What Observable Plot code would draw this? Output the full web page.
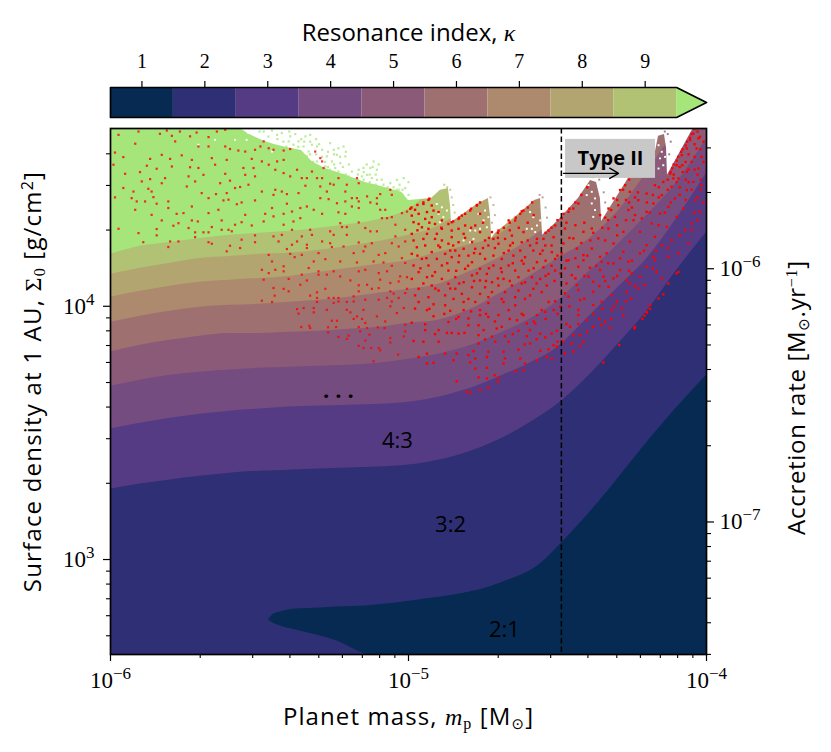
<!DOCTYPE html>
<html><head><meta charset="utf-8">
<script src="https://cdn.jsdelivr.net/npm/d3@7"></script>
<script src="https://cdn.jsdelivr.net/npm/@observablehq/plot@0.6"></script>
<style>html,body{margin:0;padding:0;background:#fff;overflow:hidden}svg{display:block}</style>
</head><body><div id="app"></div>
<script>
// ---- axes ----
const massDomain = [1e-6, 1e-4];
const logSigmaDomain = [2.625, 4.702];
const kappaValues = [1,2,3,4,5,6,7,8,9];
const kappaTail = 9.975;
const bandColors = ["#062a52","#2f2f75","#553b84","#744c80","#8a5a78","#9e7070","#ad8a6e","#b2a570","#b1c274","#a6e57a"];
const massMajor = [1e-6,1e-5,1e-4];
const massMinor = [2e-6,3e-6,4e-6,5e-6,6e-6,7e-6,8e-6,9e-6,2e-5,3e-5,4e-5,5e-5,6e-5,7e-5,8e-5,9e-5];
const sigmaMajor = [1e3,1e4];
const sigmaMinor = [500,600,700,800,900,2e3,3e3,4e3,5e3,6e3,7e3,8e3,9e3,2e4,3e4,4e4];
const rateMajor = [1e-7,1e-6];
const rateMinor = [3e-8,4e-8,5e-8,6e-8,7e-8,8e-8,9e-8,2e-7,3e-7,4e-7,5e-7,6e-7,7e-7,8e-7,9e-7,2e-6,3e-6];
const sigmaPerRate = 14070/1e-6;
const typeIIMass = -4.487;

// ---- resonance boundaries: log10 Sigma at each log10 mass ----
const logMassGrid = [-6,-5.9,-5.8,-5.7,-5.6,-5.5,-5.4,-5.3,-5.2,-5.1,-5,-4.9,-4.8,-4.7,-4.6,-4.5,-4.4,-4.3,-4.2,-4.1,-4];
const edge2to3 = [3.278,3.298,3.314,3.329,3.341,3.349,3.353,3.357,3.361,3.365,3.373,3.392,3.424,3.471,3.535,3.613,3.720,3.846,3.980,4.142,4.292];
const edge3to4 = [3.515,3.538,3.558,3.574,3.586,3.594,3.602,3.606,3.609,3.613,3.621,3.641,3.673,3.720,3.771,3.838,3.953,4.071,4.189,4.347,4.525];
const edge4to5 = [3.684,3.708,3.728,3.740,3.748,3.755,3.759,3.763,3.767,3.775,3.791,3.811,3.842,3.890,3.945,4.020,4.130,4.241,4.359,4.489,4.663];
const edge5to6 = [3.819,3.846,3.866,3.882,3.893,3.893,3.897,3.901,3.909,3.917,3.933,3.945,3.984,4.047,4.114,4.189,4.260,4.371,4.529,4.702,4.852];
const edge6to7 = [3.937,3.961,3.980,3.996,4.004,4.008,4.016,4.024,4.036,4.051,4.067,4.087,4.134,4.189,4.260,4.355,4.505,4.675,4.832,4.970,5.088];
const edge7to8 = [4.036,4.059,4.079,4.095,4.103,4.110,4.118,4.134,4.150,4.166,4.181,4.213,4.241,4.280,4.398,4.556,4.714,4.852,4.970,5.088,5.207];
const edge8to9 = [4.126,4.150,4.170,4.189,4.197,4.205,4.209,4.221,4.237,4.256,4.280,4.316,4.398,4.517,4.615,4.734,4.852,4.970,5.088,5.207,5.325];
const edge9to10 = [4.205,4.237,4.252,4.268,4.280,4.288,4.296,4.308,4.323,4.343,4.383,4.485,4.615,4.734,4.813,4.900,5.000,5.100,5.200,5.300,5.400];
// the 2:1 region
const tongueMass = [-5.470,-5.456,-5.430,-5.379,-5.295,-5.242,-5.144,-4.966,-4.691,-4.554,-4.483,-4.356,-4.221,-4.101,-4];
const tongueTop = [2.761,2.781,2.793,2.805,2.809,2.813,2.817,2.840,2.907,2.986,3.069,3.235,3.432,3.598,3.728];
const tongueBottom = [2.761,2.750,2.738,2.722,2.698,2.679,2.627,2.6,2.6,2.6,2.6,2.6,2.6,2.6,2.6];
// upper limit of the simulated domain (white above)
const limitMass = [-5.564,-5.537,-5.490,-5.453,-5.413,-5.359,-5.322,-5.279,-5.211,-5.144,-5.091,-5.023,-5.000,-4.923,-4.893,-4.866,-4.859,-4.856,-4.775,-4.745,-4.732,-4.725,-4.721,-4.708,-4.614,-4.577,-4.557,-4.554,-4.550,-4.497,-4.430,-4.389,-4.369,-4.356,-4.352,-4.262,-4.171,-4.161,-4.141,-4.134,-4.131,-4.050,-4.044];
const limitSigma = [4.702,4.680,4.655,4.640,4.628,4.615,4.570,4.544,4.517,4.489,4.473,4.450,4.418,4.426,4.458,4.465,4.398,4.331,4.398,4.418,4.426,4.359,4.268,4.288,4.379,4.418,4.426,4.359,4.280,4.339,4.426,4.497,4.489,4.426,4.335,4.505,4.611,4.671,4.678,4.623,4.517,4.690,4.702];

// ---- unstable runs, [log10 mass, log10 Sigma] ----
const redUpperLeft = [[-5.973,4.677],[-5.906,4.690],[-5.834,4.681],[-5.811,4.694],[-5.794,4.673],[-5.767,4.690],[-5.733,4.671],[-5.711,4.686],[-5.671,4.668],[-5.643,4.690],[-5.615,4.697],[-5.917,4.642],[-5.783,4.651],[-5.705,4.631],[-5.671,4.631],[-5.615,4.631],[-5.599,4.621],[-5.571,4.615],[-5.548,4.611],[-5.515,4.618],[-5.828,4.598],[-5.761,4.596],[-5.985,4.607],[-5.957,4.589],[-5.867,4.582],[-5.800,4.582],[-5.727,4.578],[-5.660,4.585],[-5.610,4.578],[-5.526,4.582],[-5.990,4.559],[-5.878,4.555],[-5.794,4.552],[-5.733,4.549],[-5.705,4.546],[-5.649,4.559],[-5.554,4.546],[-5.520,4.546],[-5.845,4.543],[-5.688,4.519],[-5.901,4.530],[-5.951,4.523],[-5.867,4.502],[-5.817,4.506],[-5.738,4.513],[-5.615,4.523],[-5.548,4.519],[-5.515,4.513],[-5.828,4.486],[-5.895,4.493],[-5.716,4.493],[-5.632,4.486],[-5.599,4.496],[-5.537,4.480],[-5.565,4.471],[-5.744,4.473],[-5.957,4.467],[-5.873,4.464],[-5.923,4.453],[-5.694,4.447],[-5.646,4.443],[-5.610,4.447],[-5.582,4.467],[-5.862,4.453],[-5.985,4.430],[-5.929,4.427],[-5.912,4.414],[-5.884,4.414],[-5.806,4.414],[-5.856,4.431],[-5.671,4.427],[-5.604,4.421],[-5.621,4.418],[-5.560,4.410],[-5.515,4.418],[-5.845,4.405],[-5.917,4.381],[-5.806,4.388],[-5.727,4.394],[-5.638,4.381],[-5.576,4.403],[-5.548,4.361],[-5.671,4.368],[-5.755,4.368],[-5.778,4.365],[-5.862,4.361],[-5.828,4.339],[-5.727,4.339],[-5.707,4.335],[-5.627,4.339],[-5.560,4.332],[-5.772,4.328],[-5.789,4.318],[-5.973,4.306],[-5.845,4.305],[-5.738,4.309],[-5.660,4.313],[-5.582,4.322],[-5.526,4.319],[-5.688,4.292],[-5.671,4.292],[-5.627,4.302],[-5.604,4.302],[-5.593,4.296],[-5.906,4.289],[-5.716,4.292],[-5.845,4.280],[-5.716,4.273],[-5.515,4.280],[-5.890,4.253],[-5.800,4.256],[-5.772,4.256],[-5.671,4.253],[-5.560,4.263],[-5.515,4.253],[-5.806,4.234],[-5.660,4.247],[-5.599,4.239],[-5.565,4.230],[-5.610,4.217]];
const redUpperMiddle = [[-5.497,4.631],[-5.469,4.624],[-5.486,4.651],[-5.453,4.618],[-5.419,4.615],[-5.397,4.621],[-5.492,4.572],[-5.469,4.559],[-5.441,4.572],[-5.419,4.578],[-5.447,4.539],[-5.419,4.526],[-5.397,4.513],[-5.374,4.539],[-5.358,4.506],[-5.324,4.532],[-5.290,4.572],[-5.313,4.611],[-5.296,4.585],[-5.285,4.546],[-5.341,4.506],[-5.307,4.506],[-5.290,4.506],[-5.235,4.506],[-5.173,4.506],[-5.207,4.480],[-5.251,4.480],[-5.212,4.453],[-5.167,4.486],[-5.346,4.476],[-5.296,4.473],[-5.274,4.453],[-5.263,4.484],[-5.492,4.453],[-5.447,4.460],[-5.425,4.453],[-5.408,4.443],[-5.453,4.440],[-5.369,4.447],[-5.296,4.427],[-5.268,4.423],[-5.240,4.407],[-5.212,4.414],[-5.190,4.427],[-5.173,4.427],[-5.139,4.434],[-5.167,4.414],[-5.128,4.410],[-5.106,4.427],[-5.095,4.443],[-5.061,4.460],[-5.056,4.440],[-5.106,4.405],[-5.095,4.381],[-5.078,4.381],[-5.167,4.388],[-5.190,4.394],[-5.458,4.388],[-5.408,4.405],[-5.341,4.394],[-5.363,4.388],[-5.318,4.381],[-5.391,4.374],[-5.419,4.365],[-5.481,4.365],[-5.453,4.355],[-5.363,4.348],[-5.386,4.335],[-5.290,4.365],[-5.235,4.371],[-5.212,4.365],[-5.022,4.368],[-5.005,4.374],[-5.056,4.352],[-5.089,4.348],[-5.072,4.348],[-5.167,4.331],[-5.229,4.328],[-5.419,4.322],[-5.486,4.335],[-5.223,4.313],[-5.207,4.313],[-5.145,4.309],[-5.106,4.296],[-5.128,4.296],[-5.044,4.322],[-5.330,4.302],[-5.263,4.296],[-5.391,4.302],[-5.425,4.282],[-5.453,4.276],[-5.358,4.276],[-5.324,4.282],[-5.251,4.282],[-5.207,4.282],[-5.167,4.252],[-5.290,4.256],[-5.374,4.256],[-5.436,4.256],[-5.391,4.243],[-5.341,4.243],[-5.408,4.226],[-5.341,4.230],[-5.257,4.234],[-5.218,4.236],[-5.145,4.236],[-5.123,4.249],[-5.056,4.249],[-5.033,4.236],[-5.011,4.256],[-5.044,4.276],[-5.011,4.302],[-5.469,4.203],[-5.397,4.207],[-5.358,4.203],[-5.302,4.210],[-5.184,4.210],[-5.151,4.217],[-5.100,4.203],[-5.078,4.210],[-5.263,4.249]];
const redLowerMiddle = [[-5.458,4.177],[-5.382,4.194],[-5.318,4.177],[-5.279,4.186],[-5.229,4.177],[-5.173,4.173],[-5.117,4.177],[-5.084,4.173],[-5.011,4.171],[-5.056,4.160],[-5.022,4.190],[-5.419,4.158],[-5.447,4.144],[-5.335,4.151],[-5.492,4.144],[-5.469,4.131],[-5.419,4.138],[-5.358,4.125],[-5.302,4.138],[-5.302,4.125],[-5.274,4.125],[-5.229,4.118],[-5.251,4.138],[-5.167,4.138],[-5.145,4.144],[-5.100,4.131],[-5.072,4.138],[-5.028,4.118],[-5.005,4.115],[-5.486,4.105],[-5.402,4.108],[-5.341,4.102],[-5.195,4.102],[-5.095,4.105],[-5.061,4.092],[-5.033,4.098],[-5.363,4.085],[-5.139,4.085],[-5.167,4.083],[-5.123,4.069],[-5.100,4.072],[-5.061,4.059],[-5.005,4.069],[-5.419,4.069],[-5.453,4.072],[-5.307,4.055],[-5.279,4.069],[-5.167,4.059],[-5.050,4.050],[-5.011,4.052],[-5.330,4.042],[-5.449,4.042],[-5.402,4.059],[-5.307,4.033],[-5.268,4.033],[-5.251,4.033],[-5.235,4.033],[-5.184,4.039],[-5.100,4.026],[-5.072,4.033],[-5.033,4.033],[-5.492,4.022],[-5.458,4.017],[-5.307,4.017],[-5.251,4.013],[-5.235,4.019],[-5.207,4.017],[-5.184,4.019],[-5.145,4.026],[-5.056,4.019],[-5.016,3.993],[-5.061,4.000],[-5.352,3.993],[-5.374,3.989],[-5.318,3.993],[-5.274,3.986],[-5.207,3.986],[-5.151,3.986],[-5.369,3.971],[-5.318,3.976],[-5.195,3.976],[-5.039,3.973],[-5.173,3.960],[-5.106,3.960],[-5.184,3.950],[-5.156,3.950],[-5.257,3.943],[-5.240,3.943],[-5.145,3.934],[-5.078,3.940],[-5.360,3.918],[-5.333,3.923],[-5.330,3.914],[-5.270,3.917],[-5.243,3.918],[-5.167,3.918],[-5.139,3.914],[-5.103,3.917],[-5.080,3.914],[-5.011,3.927],[-5.270,3.897],[-5.162,3.901],[-5.011,3.901],[-5.235,3.879],[-5.201,3.884],[-5.131,3.888],[-5.061,3.875],[-5.207,3.871],[-5.145,3.865],[-5.061,3.857],[-5.016,3.881],[-5.167,3.844],[-5.125,3.835],[-5.100,3.835],[-5.095,3.826],[-5.151,3.835],[-5.035,3.809],[-5.117,3.783]];
const redUpperRight = [[-4.994,4.385],[-4.978,4.381],[-4.950,4.404],[-4.933,4.420],[-4.922,4.398],[-4.989,4.358],[-4.966,4.365],[-4.938,4.372],[-4.916,4.378],[-4.899,4.372],[-4.944,4.345],[-4.922,4.352],[-4.983,4.332],[-4.966,4.325],[-4.911,4.325],[-4.888,4.339],[-4.955,4.312],[-4.933,4.306],[-4.888,4.306],[-4.866,4.325],[-4.855,4.332],[-4.832,4.345],[-4.821,4.358],[-4.793,4.378],[-4.771,4.398],[-4.760,4.365],[-4.989,4.286],[-4.938,4.286],[-4.905,4.286],[-4.855,4.299],[-4.832,4.306],[-4.810,4.319],[-4.776,4.319],[-4.983,4.260],[-4.950,4.266],[-4.911,4.266],[-4.888,4.260],[-4.855,4.273],[-4.815,4.286],[-4.760,4.293],[-4.720,4.293],[-4.698,4.299],[-4.664,4.339],[-4.642,4.339],[-4.625,4.365],[-4.614,4.378],[-4.972,4.233],[-4.944,4.240],[-4.894,4.233],[-4.866,4.247],[-4.832,4.253],[-4.787,4.253],[-4.743,4.260],[-4.715,4.266],[-4.676,4.266],[-4.653,4.279],[-4.614,4.293],[-4.569,4.266],[-4.530,4.299],[-4.508,4.319],[-4.989,4.207],[-4.922,4.214],[-4.877,4.207],[-4.843,4.220],[-4.815,4.227],[-4.776,4.227],[-4.732,4.240],[-4.698,4.247],[-4.659,4.240],[-4.620,4.253],[-4.592,4.240],[-4.547,4.266],[-4.513,4.273],[-4.955,4.187],[-4.905,4.187],[-4.855,4.194],[-4.799,4.200],[-4.760,4.207],[-4.715,4.200],[-4.664,4.220],[-4.625,4.220],[-4.581,4.220],[-4.541,4.240],[-4.983,4.161],[-4.933,4.161],[-4.888,4.161],[-4.832,4.174],[-4.787,4.174],[-4.743,4.187],[-4.687,4.187],[-4.648,4.200],[-4.609,4.194],[-4.558,4.207],[-4.519,4.214],[-4.966,4.135],[-4.911,4.135],[-4.866,4.141],[-4.810,4.148],[-4.760,4.148],[-4.715,4.161],[-4.664,4.161],[-4.614,4.168],[-4.569,4.174],[-4.508,4.187],[-4.989,4.108],[-4.938,4.115],[-4.888,4.108],[-4.843,4.115],[-4.787,4.122],[-4.737,4.128],[-4.687,4.135],[-4.642,4.141],[-4.597,4.141],[-4.547,4.154],[-4.922,4.082],[-4.866,4.089],[-4.815,4.095],[-4.760,4.102],[-4.720,4.095],[-4.681,4.108],[-4.631,4.115],[-4.586,4.115],[-4.530,4.128],[-4.966,4.069],[-4.899,4.062],[-4.843,4.069],[-4.787,4.075],[-4.743,4.075],[-4.698,4.082],[-4.653,4.082],[-4.609,4.095],[-4.558,4.108],[-4.508,4.141],[-4.978,4.043],[-4.933,4.036],[-4.877,4.043],[-4.821,4.049],[-4.760,4.049],[-4.720,4.056],[-4.676,4.056],[-4.631,4.062],[-4.581,4.069],[-4.536,4.082],[-4.849,4.029],[-4.799,4.029],[-4.732,4.036],[-4.687,4.029],[-4.642,4.036],[-4.592,4.043],[-4.553,4.056],[-4.609,4.029]];
const redLowerRight = [[-4.966,4.017],[-4.916,4.008],[-4.877,4.004],[-4.815,4.017],[-4.776,4.017],[-4.732,4.013],[-4.681,4.017],[-4.642,4.004],[-4.530,4.017],[-4.508,4.020],[-4.978,3.991],[-4.938,3.985],[-4.860,3.982],[-4.815,3.985],[-4.760,3.985],[-4.698,3.965],[-4.664,3.985],[-4.614,3.965],[-4.553,3.985],[-4.513,3.985],[-4.916,3.961],[-4.832,3.958],[-4.799,3.952],[-4.760,3.965],[-4.732,3.958],[-4.636,3.945],[-4.569,3.965],[-4.541,3.978],[-4.989,3.935],[-4.944,3.929],[-4.866,3.938],[-4.799,3.925],[-4.765,3.925],[-4.687,3.919],[-4.603,3.932],[-4.575,3.932],[-4.944,3.906],[-4.899,3.906],[-4.832,3.892],[-4.855,3.895],[-4.748,3.906],[-4.704,3.912],[-4.631,3.903],[-4.592,3.906],[-4.519,3.892],[-4.558,3.892],[-4.983,3.863],[-4.911,3.890],[-4.871,3.895],[-4.812,3.895],[-4.765,3.886],[-4.676,3.882],[-4.603,3.882],[-4.541,3.877],[-4.502,3.903],[-4.950,3.860],[-4.899,3.860],[-4.765,3.853],[-4.743,3.869],[-4.709,3.860],[-4.664,3.860],[-4.592,3.853],[-4.513,3.846],[-4.938,3.813],[-4.877,3.813],[-4.838,3.813],[-4.782,3.823],[-4.732,3.820],[-4.681,3.820],[-4.631,3.829],[-4.558,3.824],[-4.502,3.840],[-4.966,3.800],[-4.916,3.777],[-4.849,3.787],[-4.799,3.807],[-4.737,3.800],[-4.676,3.794],[-4.625,3.794],[-4.569,3.787],[-4.536,3.800],[-4.519,3.794],[-4.938,3.774],[-4.776,3.794],[-4.681,3.774],[-4.609,3.774],[-4.793,3.778],[-4.776,3.754],[-4.737,3.757],[-4.640,3.744],[-4.614,3.748],[-4.765,3.719],[-4.737,3.715],[-4.711,3.728],[-4.698,3.719],[-4.838,3.704],[-4.732,3.679],[-4.700,3.702],[-4.804,3.662],[-4.760,3.669],[-4.793,3.660]];
const redFarUpper = [[-4.044,4.682],[-4.055,4.656],[-4.022,4.669],[-4.033,4.623],[-4.066,4.623],[-4.016,4.590],[-4.083,4.597],[-4.050,4.570],[-4.100,4.557],[-4.027,4.544],[-4.066,4.531],[-4.122,4.524],[-4.094,4.505],[-4.044,4.491],[-4.016,4.478],[-4.145,4.491],[-4.117,4.472],[-4.066,4.459],[-4.173,4.478],[-4.150,4.439],[-4.106,4.426],[-4.038,4.419],[-4.201,4.445],[-4.178,4.406],[-4.128,4.393],[-4.078,4.386],[-4.022,4.373],[-4.273,4.478],[-4.290,4.459],[-4.257,4.452],[-4.312,4.426],[-4.229,4.419],[-4.296,4.399],[-4.329,4.386],[-4.262,4.380],[-4.201,4.373],[-4.156,4.366],[-4.100,4.353],[-4.050,4.327],[-4.357,4.360],[-4.307,4.353],[-4.245,4.340],[-4.184,4.327],[-4.133,4.314],[-4.072,4.301],[-4.385,4.307],[-4.329,4.307],[-4.279,4.294],[-4.223,4.294],[-4.173,4.274],[-4.117,4.261],[-4.061,4.248],[-4.430,4.406],[-4.447,4.386],[-4.463,4.373],[-4.486,4.347],[-4.475,4.307],[-4.447,4.268],[-4.413,4.294],[-4.363,4.268],[-4.312,4.248],[-4.257,4.255],[-4.201,4.241],[-4.150,4.241],[-4.094,4.209],[-4.480,4.248],[-4.435,4.228],[-4.385,4.228],[-4.335,4.209],[-4.279,4.215],[-4.223,4.209],[-4.178,4.195],[-4.128,4.195],[-4.486,4.209],[-4.413,4.202],[-4.357,4.195],[-4.027,4.663],[-4.081,4.557],[-4.111,4.505],[-4.161,4.320],[-4.217,4.347],[-4.03,4.69],[-4.01,4.65],[-4.04,4.64],[-4.06,4.60],[-4.02,4.62],[-4.01,4.57],[-4.04,4.59],[-4.07,4.57],[-4.03,4.52],[-4.06,4.54],[-4.09,4.55],[-4.00,4.53],[-4.08,4.53],[-4.11,4.52],[-4.13,4.50],[-4.16,4.47],[-4.09,4.47],[-4.06,4.49],[-4.02,4.46],[-4.18,4.44],[-4.12,4.41],[-4.07,4.42],[-4.03,4.43],[-4.26,4.41],[-4.24,4.43]];
const redFarLower = [[-4.463,4.182],[-4.413,4.182],[-4.352,4.176],[-4.312,4.169],[-4.262,4.176],[-4.201,4.156],[-4.173,4.182],[-4.475,4.150],[-4.430,4.156],[-4.391,4.152],[-4.357,4.143],[-4.290,4.143],[-4.251,4.130],[-4.167,4.136],[-4.094,4.136],[-4.452,4.123],[-4.396,4.117],[-4.346,4.117],[-4.312,4.110],[-4.268,4.103],[-4.223,4.117],[-4.435,4.084],[-4.380,4.097],[-4.329,4.077],[-4.257,4.090],[-4.208,4.084],[-4.475,4.051],[-4.430,4.064],[-4.380,4.057],[-4.318,4.044],[-4.268,4.057],[-4.229,4.071],[-4.463,4.038],[-4.424,4.025],[-4.352,4.018],[-4.301,4.018],[-4.253,4.031],[-4.145,4.047],[-4.161,4.031],[-4.189,4.005],[-4.491,3.998],[-4.430,3.985],[-4.380,4.005],[-4.318,3.985],[-4.284,3.992],[-4.201,3.978],[-4.208,3.963],[-4.430,3.965],[-4.402,3.946],[-4.340,3.939],[-4.279,3.963],[-4.380,3.919],[-4.352,3.926],[-4.324,3.915],[-4.240,3.919],[-4.242,3.913],[-4.458,3.919],[-4.424,3.886],[-4.447,3.886],[-4.480,3.860],[-4.413,3.860],[-4.452,3.853],[-4.424,3.844],[-4.475,3.814],[-4.447,3.821],[-4.293,3.847],[-4.346,3.778],[-4.128,4.090]];
const redAlongLimit = [[-4.99,4.39],[-4.97,4.40],[-4.95,4.41],[-4.93,4.425],[-4.85,4.335],[-4.83,4.35],[-4.81,4.365],[-4.79,4.385],[-4.77,4.40],[-4.76,4.41],[-4.70,4.29],[-4.68,4.31],[-4.66,4.33],[-4.64,4.35],[-4.62,4.375],[-4.60,4.39],[-4.585,4.41],[-4.54,4.29],[-4.52,4.31],[-4.50,4.34],[-4.48,4.365],[-4.46,4.385],[-4.44,4.41],[-4.42,4.44],[-4.40,4.47],[-4.34,4.35],[-4.32,4.38],[-4.30,4.42],[-4.28,4.46],[-4.26,4.50],[-4.24,4.525],[-4.21,4.55],[-4.12,4.53],[-4.11,4.56],[-4.095,4.59],[-4.08,4.62],[-4.065,4.65],[-4.05,4.68],[-4.04,4.70],[-4.115,4.545],[-4.10,4.575],[-4.085,4.61],[-4.07,4.635],[-4.055,4.665],[-4.215,3.95],[-4.20,3.975],[-4.19,3.99],[-4.10,4.13]];
const redExtra = [[-4.97,4.30],[-4.93,4.33],[-4.89,4.31],[-4.85,4.24],[-4.81,4.27],[-4.79,4.31],[-4.75,4.33],[-4.73,4.27],[-4.70,4.27],[-4.66,4.30],[-4.63,4.31],[-4.60,4.33],[-4.58,4.36],[-4.97,4.20],[-4.94,4.19],[-4.90,4.24],[-4.86,4.22],[-4.83,4.20],[-4.78,4.21],[-4.75,4.23],[-4.71,4.23],[-4.68,4.21],[-4.65,4.25],[-4.60,4.26],[-4.57,4.25],[-4.55,4.22],[-4.52,4.24],[-4.50,4.20],[-4.96,4.15],[-4.92,4.12],[-4.87,4.17],[-4.84,4.14],[-4.80,4.16],[-4.77,4.13],[-4.73,4.15],[-4.69,4.15],[-4.65,4.17],[-4.62,4.18],[-4.58,4.15],[-4.54,4.18],[-4.52,4.16],[-4.49,4.13],[-4.95,4.09],[-4.91,4.07],[-4.86,4.07],[-4.83,4.09],[-4.78,4.10],[-4.74,4.10],[-4.70,4.11],[-4.66,4.10],[-4.62,4.09],[-4.57,4.09],[-4.54,4.12],[-4.51,4.10],[-4.93,3.99],[-4.88,3.97],[-4.84,3.95],[-4.79,3.98],[-4.74,3.97],[-4.71,3.94],[-4.66,3.95],[-4.62,3.97],[-4.58,3.94],[-4.54,3.95],[-4.50,3.97],[-4.72,3.88],[-4.65,3.89],[-4.61,3.85],[-4.57,3.87],[-4.53,3.83],[-4.50,3.86],[-4.47,4.33],[-4.44,4.32],[-4.41,4.33],[-4.38,4.29],[-4.35,4.31],[-4.33,4.34],[-4.30,4.32],[-4.27,4.34],[-4.25,4.39],[-4.27,4.42],[-4.23,4.45],[-4.20,4.41],[-4.16,4.43],[-4.13,4.46],[-4.09,4.44],[-4.05,4.46],[-4.02,4.50],[-4.04,4.54],[-4.07,4.50],[-4.10,4.49],[-4.14,4.37],[-4.19,4.37],[-4.24,4.36],[-4.30,4.28],[-4.34,4.26],[-4.39,4.26],[-4.42,4.25],[-4.46,4.27],[-4.47,4.18],[-4.44,4.19],[-4.40,4.20],[-4.37,4.16],[-4.33,4.17],[-4.29,4.19],[-4.25,4.18],[-4.21,4.22],[-4.17,4.22],[-4.13,4.23],[-4.09,4.28],[-4.05,4.30],[-4.03,4.34],[-4.01,4.41],[-4.04,4.37],[-4.47,4.09],[-4.44,4.11],[-4.41,4.12],[-4.36,4.08],[-4.34,4.10],[-4.30,4.12],[-4.26,4.14],[-4.24,4.08],[-4.18,4.15],[-4.15,4.11],[-4.46,4.00],[-4.41,4.03],[-4.38,3.97],[-4.35,3.99],[-4.31,4.00],[-4.27,4.02],[-4.47,3.93],[-4.43,3.93],[-4.40,3.90],[-4.36,3.95],[-4.32,3.95]];
// pale speckled fringe above the domain limit, and gaps inside the teeth
const fringeDots = [[-5.486,4.690],[-5.458,4.694],[-5.441,4.677],[-5.425,4.684],[-5.397,4.671],[-5.369,4.651],[-5.346,4.671],[-5.330,4.677],[-5.352,4.631],[-5.324,4.638],[-5.335,4.611],[-5.307,4.631],[-5.290,4.618],[-5.263,4.644],[-5.251,4.618],[-5.235,4.624],[-5.274,4.592],[-5.257,4.572],[-5.240,4.598],[-5.218,4.631],[-5.212,4.592],[-5.229,4.565],[-5.246,4.546],[-5.190,4.532],[-5.167,4.539],[-5.151,4.546],[-5.128,4.546],[-5.106,4.539],[-5.117,4.572],[-5.139,4.519],[-5.156,4.513],[-5.123,4.506],[-5.201,4.513],[-5.184,4.499],[-5.106,4.499],[-5.084,4.480],[-5.061,4.486],[-5.039,4.499],[-5.016,4.506],[-5.033,4.460],[-5.011,4.467],[-5.050,4.447],[-5.022,4.427],[-5.005,4.414],[-5.044,4.407],[-5.072,4.453],[-5.033,4.394],[-5.402,4.651],[-5.386,4.638],[-5.363,4.611],[-5.341,4.592],[-5.307,4.572],[-5.279,4.552],[-5.263,4.539],[-5.235,4.532],[-5.218,4.519],[-5.50,4.69],[-5.47,4.67],[-5.44,4.66],[-5.42,4.65],[-5.40,4.69],[-5.38,4.68],[-5.36,4.66],[-5.41,4.63],[-5.39,4.62],[-5.37,4.63],[-5.35,4.65],[-5.33,4.65],[-5.31,4.66],[-5.30,4.64],[-5.33,4.60],[-5.31,4.60],[-5.29,4.59],[-5.27,4.61],[-5.25,4.60],[-5.28,4.57],[-5.30,4.55],[-5.27,4.55],[-5.25,4.56],[-5.23,4.59],[-5.21,4.61],[-5.25,4.53],[-5.22,4.55],[-5.20,4.56],[-5.24,4.51],[-5.21,4.52],[-5.19,4.50],[-5.17,4.52],[-5.15,4.53],[-5.13,4.52],[-5.11,4.52],[-5.17,4.50],[-5.15,4.50],[-5.14,4.56],[-5.12,4.55],[-5.10,4.56],[-5.13,4.49],[-5.11,4.48],[-5.09,4.50],[-5.07,4.47],[-5.05,4.47],[-5.03,4.48],[-5.02,4.46],[-5.00,4.49],[-5.06,4.44],[-5.04,4.43],[-5.02,4.44],[-5.00,4.44],[-5.04,4.46],[-5.08,4.46],[-5.47,4.64],[-5.45,4.63],[-5.43,4.62],[-5.41,4.60],[-5.38,4.60],[-5.36,4.59],[-5.34,4.57],[-5.32,4.57],[-5.30,4.53],[-5.28,4.52]];
const gapDots = [[-4.905,4.404],[-4.888,4.391],[-4.899,4.365],[-4.883,4.352],[-4.894,4.332],[-4.871,4.378],[-4.765,4.365],[-4.748,4.339],[-4.737,4.312],[-4.760,4.306],[-4.776,4.299],[-4.793,4.299],[-4.743,4.378],[-4.732,4.352],[-4.782,4.266],[-4.815,4.260],[-4.793,4.253],[-4.592,4.372],[-4.581,4.352],[-4.569,4.319],[-4.586,4.306],[-4.575,4.293],[-4.558,4.339],[-4.603,4.306],[-4.396,4.478],[-4.385,4.452],[-4.374,4.426],[-4.402,4.439],[-4.385,4.406],[-4.374,4.380],[-4.380,4.353],[-4.161,4.636],[-4.150,4.610],[-4.156,4.584],[-4.145,4.557],[-4.161,4.544],[-4.139,4.590],[-5.537,4.684],[-5.520,4.690],[-5.509,4.677],[-5.543,4.657],[-5.582,4.657],[-5.649,4.657],[-5.705,4.638],[-5.458,4.611],[-5.408,4.677]];
// coloured specks trailing the teeth: [log10 mass, log10 Sigma, resonance index]
const toothDots = [[-4.86,4.46,9],[-4.855,4.43,9],[-4.85,4.40,9],[-4.845,4.37,9],[-4.87,4.47,9],[-4.88,4.48,9],[-4.725,4.43,8],[-4.715,4.40,8],[-4.71,4.36,8],[-4.72,4.33,8],[-4.55,4.43,7],[-4.54,4.39,7],[-4.535,4.35,7],[-4.56,4.44,7],[-4.36,4.50,6],[-4.345,4.45,6],[-4.34,4.41,6],[-4.38,4.51,6],[-4.13,4.68,5],[-4.12,4.65,5],[-4.125,4.60,5],[-4.14,4.69,5]];
// annotations: [log10 mass, log10 Sigma, text]
const resonanceLabels = [[-5.225,3.665,"..."],[-5.037,3.467,"4:3"],[-4.859,3.136,"3:2"],[-4.678,2.722,"2:1"]];
const typeIIBoxMass = [-4.473,-4.171];
const typeIIBoxSigma = [4.505,4.659];
const typeIILabel = [-4.322,4.584];
const typeIIArrow = {mass:[-4.480,-4.295], sigma:4.525};

const P = v => 10 ** v;
const sansFont = "'Open Sans', Lato, sans-serif";
const serifFont = "'Liberation Serif', serif";
const sigmaRange = logSigmaDomain.map(P);

function bandArea(values, color) {
  return Plot.areaY(logMassGrid, {
    x: m => P(m), y1: () => sigmaRange[0],
    y2: (m, i) => P(values[i]), fill: color, curve: "monotone-x", clip: true
  });
}
function dots(list, opts) {
  return Plot.dot(list, {x: d => P(d[0]), y: d => P(d[1]), symbol: "square", clip: true, ...opts});
}
const pow = v => "10|" + Math.round(Math.log10(v));

// ---- colour bar ----
const bar = Plot.plot({
  width: 831, height: 122,
  marginLeft: 110, marginRight: 125, marginTop: 87, marginBottom: 5,
  x: {domain: [0.5, kappaTail]}, y: {domain: [0, 1], axis: null},
  marks: [
    Plot.rect(kappaValues, {x1: k => k - 0.5, x2: k => k + 0.5, y1: () => 0, y2: () => 1, fill: k => bandColors[k - 1]}),
    Plot.areaY([9.5, kappaTail], {x: d => d, y1: (d, i) => i ? 0.5 : 0, y2: (d, i) => i ? 0.5 : 1, fill: bandColors[9]}),
    Plot.line([[0.5,0],[9.5,0],[kappaTail,0.5],[9.5,1],[0.5,1],[0.5,0]], {x: "0", y: "1", stroke: "black", strokeWidth: 1.7}),
    Plot.axisX({anchor: "top", ticks: kappaValues, tickSize: 7, tickPadding: 13, tickFormat: d => String(d), label: null, fontSize: 20, fontFamily: serifFont, strokeWidth: 1.2, color: "black"}),
    Plot.text(["Resonance index, κ"], {frameAnchor: "top", dy: -64, fontSize: 24, fontFamily: sansFont, fill: "black"})
  ]
});

// ---- main panel ----
const xLab = "Planet mass, mp [M⊙]";
const yLab = "Surface density at 1 AU, Σ0 [g/cm2]";
const rLab = "Accretion rate [M⊙.yr-1]";
const tickStyle = {tickFormat: () => "", label: null, tickSize: 4, strokeWidth: 1.1};
const labelStyle = {label: null, tickSize: 7, strokeWidth: 1.2, fontSize: 23, fontFamily: serifFont, color: "black"};
const main = Plot.plot({
  width: 831, height: 630,
  marginLeft: 110, marginRight: 125, marginTop: 6, marginBottom: 98,
  x: {type: "log", domain: massDomain},
  y: {type: "log", domain: sigmaRange},
  marks: [
    Plot.rect([0], {x1: massDomain[0], x2: massDomain[1], y1: sigmaRange[0], y2: sigmaRange[1], fill: bandColors[9]}),
    bandArea(edge9to10, bandColors[8]),
    bandArea(edge8to9, bandColors[7]),
    bandArea(edge7to8, bandColors[6]),
    bandArea(edge6to7, bandColors[5]),
    bandArea(edge5to6, bandColors[4]),
    bandArea(edge4to5, bandColors[3]),
    bandArea(edge3to4, bandColors[2]),
    bandArea(edge2to3, bandColors[1]),
    Plot.areaY(tongueMass, {x: m => P(m), y1: (m, i) => P(tongueBottom[i]), y2: (m, i) => P(tongueTop[i]), fill: bandColors[0], curve: "monotone-x", clip: true}),
    Plot.areaY(limitMass, {x: m => P(m), y1: (m, i) => P(limitSigma[i]), y2: () => sigmaRange[1] * 1.02, fill: "white", clip: true}),
    dots(gapDots, {r: 1.1, fill: "white"}),
    dots(fringeDots, {r: 1.25, fill: bandColors[9], fillOpacity: 0.75}),
    dots(toothDots, {r: 1.1, fill: d => bandColors[d[2] - 1], fillOpacity: 0.8}),
    dots([...redUpperLeft, ...redUpperMiddle, ...redLowerMiddle], {r: 1.25, fill: "#f00", fillOpacity: 0.8}),
    dots([...redUpperRight, ...redLowerRight, ...redFarUpper, ...redFarLower, ...redAlongLimit, ...redExtra], {r: 1.35, fill: "#f00"}),
    Plot.rect([0], {x1: P(typeIIBoxMass[0]), x2: P(typeIIBoxMass[1]), y1: P(typeIIBoxSigma[0]), y2: P(typeIIBoxSigma[1]), fill: "#c8c8c8"}),
    Plot.text(["Type II"], {x: P(typeIILabel[0]), y: P(typeIILabel[1]), fontSize: 20, fontWeight: 700, fontFamily: sansFont, fill: "black"}),
    Plot.arrow([0], {x1: P(typeIIArrow.mass[0]), x2: P(typeIIArrow.mass[1]), y1: P(typeIIArrow.sigma), y2: P(typeIIArrow.sigma), stroke: "black", strokeWidth: 1.4, headLength: 11}),
    Plot.ruleX([P(typeIIMass)], {stroke: "black", strokeWidth: 1.5, strokeDasharray: "5.5,3"}),
    Plot.text(resonanceLabels, {x: d => P(d[0]), y: d => P(d[1]), text: d => d[2], fontSize: 22, fontFamily: sansFont, fill: "black"}),
    Plot.frame({stroke: "black", strokeWidth: 1.7}),
    Plot.axisX({ticks: massMajor, tickFormat: pow, tickPadding: 10, ...labelStyle}),
    Plot.axisX({ticks: massMinor, ...tickStyle}),
    Plot.axisY({ticks: sigmaMajor, tickFormat: pow, tickPadding: 9, ...labelStyle}),
    Plot.axisY({ticks: sigmaMinor, ...tickStyle}),
    Plot.axisY({anchor: "right", ticks: rateMajor.map(r => r * sigmaPerRate), tickFormat: s => pow(s / sigmaPerRate), tickPadding: 6, ...labelStyle}),
    Plot.axisY({anchor: "right", ticks: rateMinor.map(r => r * sigmaPerRate), ...tickStyle}),
    Plot.text([xLab], {frameAnchor: "bottom", dy: 63, lineAnchor: "middle", fontSize: 24, fontFamily: sansFont, fill: "black"}),
    Plot.text([yLab], {frameAnchor: "left", textAnchor: "middle", dx: -77, dy: -10, rotate: -90, fontSize: 24, fontFamily: sansFont, fill: "black"}),
    Plot.text([rLab], {frameAnchor: "right", textAnchor: "middle", dx: 91, dy: 6, rotate: -90, fontSize: 24, fontFamily: sansFont, fill: "black"})
  ]
});

// ---- mixed typefaces, sub/superscripts ----
function rich(svg, key, parts, spacing) {
  d3.select(svg).selectAll("text").filter(function () { return this.textContent === key; }).each(function () {
    const t = d3.select(this); t.text(null);
    if (spacing) t.attr("letter-spacing", spacing);
    for (const p of parts) {
      const s = t.append("tspan").text(p.t);
      if (p.math) s.attr("font-family", serifFont).attr("font-style", "italic");
      if (p.font) s.attr("font-family", p.font);
      if (p.size) s.attr("font-size", p.size);
      if (p.dy) s.attr("dy", p.dy);
    }
  });
}
rich(bar, "Resonance index, κ", [{t: "Resonance index, "}, {t: "κ", math: true}]);
rich(main, xLab, [{t: "Planet mass, "}, {t: "m", math: true}, {t: "p", font: serifFont, size: 16, dy: 4}, {t: " [M", dy: -4}, {t: "⊙", font: "'DejaVu Sans'", size: 15, dy: 4}, {t: "]", dy: -4}], 1.1);
rich(main, yLab, [{t: "Surface density at 1 AU, "}, {t: "Σ", font: serifFont}, {t: "0", font: serifFont, size: 16, dy: 4}, {t: " [g/cm", dy: -4}, {t: "2", size: 16, dy: -8}, {t: "]", dy: 8}], 1.2);
rich(main, rLab, [{t: "Accretion rate [M"}, {t: "⊙", font: "'DejaVu Sans'", size: 15, dy: 4}, {t: ".yr", dy: -4}, {t: "−1", font: serifFont, size: 16, dy: -8}, {t: "]", dy: 8}], 0.7);
d3.select(main).selectAll("text").filter(function () { return this.textContent.includes("|"); }).each(function () {
  const [a, b] = this.textContent.split("|");
  const t = d3.select(this); t.text(null);
  t.append("tspan").text(a);
  t.append("tspan").text(b.replace("-", "−")).attr("font-size", 17).attr("dy", -9);
});
d3.select(main).selectAll("text").filter(function () { return this.textContent === "..."; }).attr("letter-spacing", 6).attr("font-weight", 700);

document.getElementById("app").append(bar, main);
</script>
</body></html>
